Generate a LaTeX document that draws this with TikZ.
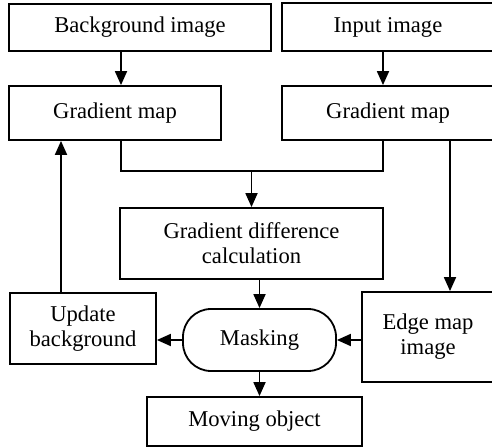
\documentclass[tikz,border=0pt]{standalone}
\usepackage{fontspec}
\setmainfont{Liberation Serif}
\usetikzlibrary{arrows.meta,positioning}
\tikzset{
    block/.style={rectangle,draw,line width=0.9pt,align=center,inner sep=2pt},
    term/.style={rectangle,rounded corners=14pt,draw,line width=0.9pt,align=center},
    line/.style={line width=0.9pt},
    arr/.style={-{Triangle[length=7pt,width=6pt]},line width=0.9pt}
}

\begin{document}
\begin{tikzpicture}[x=0.5pt,y=-0.5pt,font=\fontsize{11.3}{12.5}\selectfont]

                \clip (0,0) rectangle (492,448);

                \node[block,minimum width=131pt,minimum height=23.5pt] (bg)   at (140,27.5)   {Background image};
                \node[block,minimum width=106pt,minimum height=24pt]   (in)   at (388,27)     {Input image};
                \node[block,minimum width=106pt,minimum height=27pt]   (gl)   at (115,113)    {Gradient map};
                \node[block,minimum width=106pt,minimum height=27pt]   (gr)   at (388,113)    {Gradient map};
                \node[block,minimum width=131.5pt,minimum height=35.5pt] (calc) at (251.5,243.5) {Gradient difference\\calculation};
                \node[block,minimum width=73pt,minimum height=35.5pt]  (upd)  at (83,328.5)   {Update\\background};
                \node[term,minimum width=76.5pt,minimum height=31pt]   (mask) at (259.5,340)  {Masking};
                \node[block,minimum width=66pt,minimum height=45pt]    (edge) at (428,337)    {Edge map\\image};
                \node[block,minimum width=107.5pt,minimum height=24.5pt] (mov) at (254.5,421.5) {Moving object};

                \coordinate (join) at (calc.north |- 0,171);

                % inputs to gradient maps
                \draw[arr] ([xshift=3pt]gl.north |- bg.south) -- ([xshift=3pt]gl.north);
                \draw[arr] ([xshift=-2.5pt]gr.north |- in.south) -- ([xshift=-2.5pt]gr.north);

                % both gradient maps join into the difference
                \draw[line] ([xshift=3pt]gl.south) |- (join) -| ([xshift=-2.5pt]gr.south);
                \draw[arr] (join) -- (calc.north);
                \draw[arr] ([xshift=31pt]gr.south) -- ([xshift=31pt]gr.south |- edge.north);

                % masking
                \draw[arr] (calc.south -| mask.north) -- (mask.north);
                \draw[arr] (edge.west |- mask.east) -- (mask.east);
                \draw[arr] (mask.west) -- (upd.east |- mask.west);
                \draw[arr] (mask.south) -- (mask.south |- mov.north);

                % feedback
                \draw[arr] ([xshift=-11pt]upd.north) -- ([xshift=-11pt]upd.north |- gl.south);

            \end{tikzpicture}
\end{document}
